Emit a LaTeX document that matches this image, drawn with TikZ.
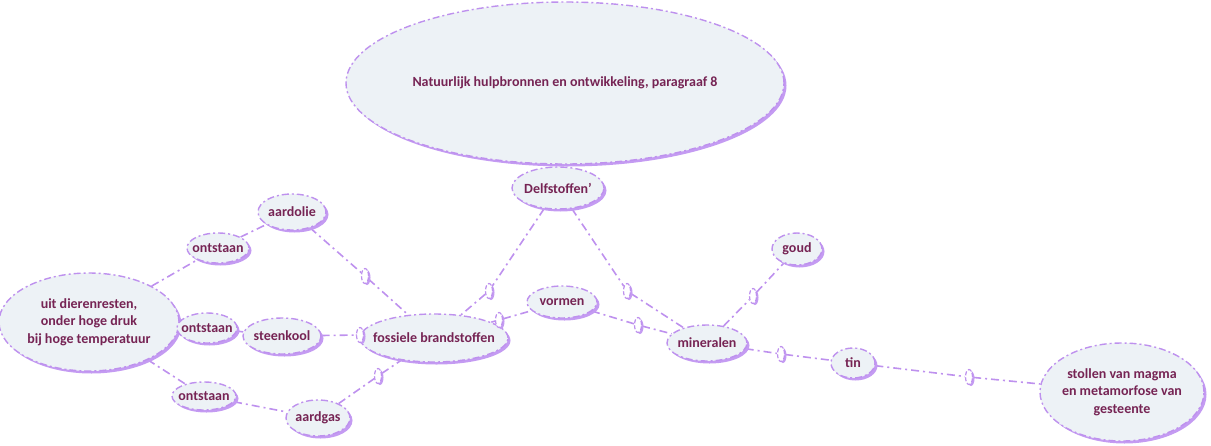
\documentclass[tikz,border=0pt]{standalone}
\usepackage{fontspec}
\setmainfont{Carlito}
\usetikzlibrary{shapes.geometric,shadows,backgrounds}
\definecolor{bord}{RGB}{190,145,238}
\definecolor{shad}{RGB}{196,155,242}
\definecolor{cfill}{RGB}{237,242,246}
\definecolor{ctext}{RGB}{118,36,84}
\tikzset{
  concept/.style={ellipse, draw=bord, line width=1.4pt, fill=cfill,
    dash pattern=on 7pt off 3pt on 2pt off 3pt,
    inner xsep=-20pt, inner ysep=-8pt, text=ctext, font=\bfseries\fontsize{14}{17.5}\selectfont, align=center,
    drop shadow={shadow xshift=2.5pt, shadow yshift=-2.5pt, fill=shad, opacity=1}},
  marker/.style={ellipse, draw=bord, line width=1.2pt, fill=white,
    dash pattern=on 4pt off 2pt, inner sep=0pt, minimum width=7pt, minimum height=15pt,
    drop shadow={shadow xshift=2pt, shadow yshift=-1.5pt, fill=shad, opacity=1}},
  conn/.style={draw=bord, line width=1.6pt, dash pattern=on 8pt off 4pt on 2pt off 4pt}
}
\begin{document}
\begin{tikzpicture}[x=1pt,y=-1pt]
\useasboundingbox (0,0) rectangle (1211,445);
\node[concept, minimum width=438pt, minimum height=162pt] (title) at (565,83) {Natuurlijk hulpbronnen en ontwikkeling, paragraaf 8};
\node[concept, minimum width=92pt, minimum height=42pt] (delf) at (558,188) {Delfstoffen'};
\node[concept, minimum width=68pt, minimum height=36pt] (olie) at (292,212) {aardolie};
\node[concept, minimum width=62pt, minimum height=30pt] (ont1) at (218,248) {ontstaan};
\node[concept, minimum width=180pt, minimum height=98pt] (uit) at (89,322) {uit dierenresten,\\onder hoge druk\\bij hoge temperatuur};
\node[concept, minimum width=60pt, minimum height=30pt] (ont2) at (207,328) {ontstaan};
\node[concept, minimum width=78pt, minimum height=36pt] (kool) at (282,336) {steenkool};
\node[concept, minimum width=148pt, minimum height=48pt] (foss) at (434,338) {fossiele brandstoffen};
\node[concept, minimum width=64pt, minimum height=28pt] (ont3) at (204,396) {ontstaan};
\node[concept, minimum width=64pt, minimum height=36pt] (gas) at (318,418) {aardgas};
\node[concept, minimum width=70pt, minimum height=32pt] (vorm) at (562,302) {vormen};
\node[concept, minimum width=80pt, minimum height=36pt] (mine) at (707,343) {mineralen};
\node[concept, minimum width=50pt, minimum height=32pt] (goud) at (797,249) {goud};
\node[concept, minimum width=44pt, minimum height=30pt] (tin) at (853,363) {tin};
\node[concept, minimum width=164pt, minimum height=98pt] (stol) at (1122,392) {stollen van magma\\en metamorfose van\\gesteente};
% markers
\node[marker] (m1) at (365,276) {};
\node[marker] (m2) at (489,291) {};
\node[marker] (m3) at (499,320) {};
\node[marker] (m4) at (360,335) {};
\node[marker] (m5) at (378,376) {};
\node[marker] (m6) at (627,291) {};
\node[marker] (m7) at (638,325) {};
\node[marker] (m8) at (753,296) {};
\node[marker] (m9) at (781,354) {};
\node[marker] (m10) at (969,377) {};
\begin{pgfonlayer}{background}
\draw[conn] (title) -- (delf);
\draw[conn] (delf) -- (m2) -- (foss);
\draw[conn] (delf) -- (m6) -- (mine);
\draw[conn] (olie) -- (m1) -- (foss);
\draw[conn] (kool) -- (m4) -- (foss);
\draw[conn] (gas) -- (m5) -- (foss);
\draw[conn] (foss) -- (m3) -- (vorm);
\draw[conn] (vorm) -- (m7) -- (mine);
\draw[conn] (mine) -- (m8) -- (goud);
\draw[conn] (mine) -- (m9) -- (tin);
\draw[conn] (tin) -- (m10) -- (stol);
\draw[conn] (uit) -- (ont1) -- (olie);
\draw[conn] (uit) -- (ont2) -- (kool);
\draw[conn] (uit) -- (ont3) -- (gas);
\end{pgfonlayer}
\end{tikzpicture}
\end{document}
